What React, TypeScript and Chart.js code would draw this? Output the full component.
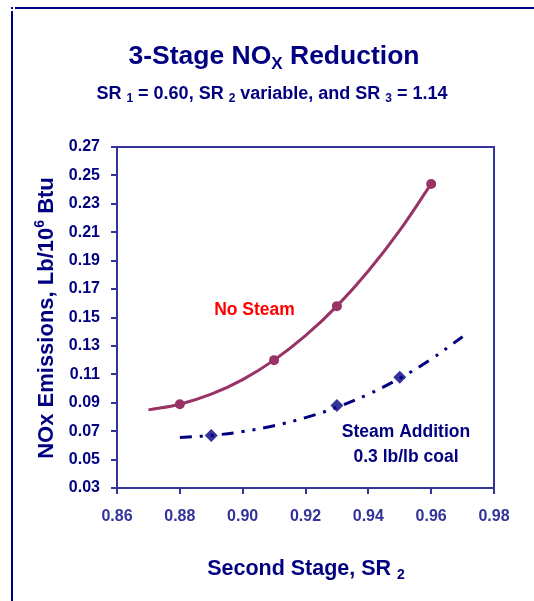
import React, { useEffect, useRef } from "react";
import { Chart, registerables } from "chart.js";

Chart.register(...registerables);

// ---- Data ----
const noSteamSR = [0.88, 0.91, 0.93, 0.96];
const noSteamNOx = [0.089, 0.12, 0.158, 0.244];
const steamSR = [0.89, 0.93, 0.95];
const steamNOx = [0.067, 0.088, 0.108];

// trend lines, points
const noSteamTrendSR = [0.87, 0.88, 0.89, 0.9, 0.91, 0.92, 0.93, 0.94, 0.95, 0.96];
const noSteamTrendNOx = [0.085, 0.089, 0.096, 0.1063, 0.12, 0.1372, 0.158, 0.1827, 0.2113, 0.244];
const steamTrendSR = [0.88, 0.89, 0.9, 0.91, 0.92, 0.93, 0.94, 0.95, 0.96, 0.97];
const steamTrendNOx = [0.0655, 0.067, 0.0697, 0.0738, 0.0795, 0.0868, 0.096, 0.1072, 0.1207, 0.1365];

const xMin = 0.86;
const xMax = 0.98;
const xStep = 0.02;
const yMin = 0.03;
const yMax = 0.27;
const yStep = 0.02;

const FONT = '"Liberation Sans", Arial, sans-serif';
const NAVY = "#000080";
const AXIS = "#333399";
const PLUM = "#993366";

type Seg = { t: string; s?: "sub" | "sup" };

function drawRich(
  ctx: CanvasRenderingContext2D,
  segs: Seg[],
  x: number,
  y: number,
  size: number,
  color: string,
  rotate = 0
) {
  ctx.save();
  ctx.translate(x, y);
  if (rotate) ctx.rotate(rotate);
  ctx.fillStyle = color;
  ctx.textBaseline = "alphabetic";
  ctx.textAlign = "left";
  const fontFor = (sg: Seg) => {
    const sz = sg.s ? Math.round(size * 0.64) : size;
    return `bold ${sz}px ${FONT}`;
  };
  let total = 0;
  const widths = segs.map((sg) => {
    ctx.font = fontFor(sg);
    const w = ctx.measureText(sg.t).width;
    total += w;
    return w;
  });
  let cx = -total / 2;
  segs.forEach((sg, i) => {
    ctx.font = fontFor(sg);
    let dy = 0;
    if (sg.s === "sub") dy = size * 0.17;
    if (sg.s === "sup") dy = -size * 0.42;
    ctx.fillText(sg.t, cx, dy);
    cx += widths[i];
  });
  ctx.restore();
}

const decorPlugin = {
  id: "decor",
  afterDraw(chart: any) {
    const ctx: CanvasRenderingContext2D = chart.ctx;
    const ca = chart.chartArea;
    ctx.save();
    // outer frame
    ctx.fillStyle = NAVY;
    ctx.fillRect(11, 11, 2, 590);
    ctx.fillRect(15, 7, 519, 2);
    ctx.fillRect(11, 7, 2, 2);
    // plot border
    ctx.strokeStyle = AXIS;
    ctx.lineWidth = 2;
    ctx.strokeRect(ca.left, ca.top, ca.right - ca.left, ca.bottom - ca.top);
    ctx.restore();

    // titles
    drawRich(ctx, [{ t: "3-Stage NO" }, { t: "X", s: "sub" }, { t: " Reduction" }], 274, 64, 26.5, NAVY);
    drawRich(
      ctx,
      [
        { t: "SR " },
        { t: "1", s: "sub" },
        { t: " = 0.60, SR " },
        { t: "2", s: "sub" },
        { t: " variable, and SR " },
        { t: "3", s: "sub" },
        { t: " = 1.14" },
      ],
      272,
      99,
      18,
      NAVY
    );
    // axis titles
    drawRich(ctx, [{ t: "Second Stage, SR " }, { t: "2", s: "sub" }], 306, 575, 21.5, NAVY);
    drawRich(
      ctx,
      [{ t: "NOx Emissions, Lb/10" }, { t: "6", s: "sup" }, { t: " Btu" }],
      53,
      318,
      22,
      NAVY,
      -Math.PI / 2
    );
    // annotations
    drawRich(ctx, [{ t: "No Steam" }], 254.5, 315, 17.5, "#FF0000");
    drawRich(ctx, [{ t: "Steam Addition" }], 406, 437, 17.5, NAVY);
    drawRich(ctx, [{ t: "0.3 lb/lb coal" }], 406, 462, 17.5, NAVY);
  },
};

export default function App() {
  const ref = useRef<HTMLCanvasElement | null>(null);
  useEffect(() => {
    if (!ref.current) return;
    const pts = (xs: number[], ys: number[]) => xs.map((x, i) => ({ x, y: ys[i] }));
    const chart = new Chart(ref.current, {
      type: "line",
      data: {
        datasets: [
          {
            label: "No Steam trend",
            data: pts(noSteamTrendSR, noSteamTrendNOx),
            borderColor: PLUM,
            borderWidth: 3,
            pointRadius: 0,
            tension: 0.4,
            fill: false,
          },
          {
            label: "Steam trend",
            data: pts(steamTrendSR, steamTrendNOx),
            borderColor: NAVY,
            borderWidth: 3,
            borderDash: [12, 8, 3, 8, 3, 8],
            borderDashOffset: 0,
            borderCapStyle: "butt",
            pointRadius: 0,
            tension: 0.4,
            fill: false,
          },
          {
            label: "No Steam",
            data: pts(noSteamSR, noSteamNOx),
            showLine: false,
            pointStyle: "circle",
            pointRadius: 5,
            pointBackgroundColor: PLUM,
            pointBorderColor: PLUM,
            pointBorderWidth: 0,
          },
          {
            label: "Steam Addition",
            data: pts(steamSR, steamNOx),
            showLine: false,
            pointStyle: "rectRot",
            pointRadius: 6.5,
            pointBackgroundColor: AXIS,
            pointBorderColor: AXIS,
            pointBorderWidth: 0,
          },
        ],
      },
      options: {
        responsive: false,
        animation: false,
        events: [],
        layout: { padding: { left: 0, right: 40, top: 147, bottom: 0 } },
        plugins: { legend: { display: false }, title: { display: false }, tooltip: { enabled: false } },
        scales: {
          x: {
            type: "linear",
            min: xMin,
            max: xMax,
            afterFit: (s: any) => {
              s.height = 113;
            },
            ticks: {
              stepSize: xStep,
              color: AXIS,
              font: { family: FONT, size: 16, weight: "bold" },
              padding: 13,
              maxRotation: 0,
              callback: (v: any) => Number(v).toFixed(2),
            },
            grid: { drawOnChartArea: false, drawTicks: true, tickLength: 6, color: AXIS, lineWidth: 2 },
            border: { display: true, color: AXIS, width: 2 },
          },
          y: {
            type: "linear",
            min: yMin,
            max: yMax,
            afterFit: (s: any) => {
              s.width = 117;
            },
            ticks: {
              stepSize: yStep,
              color: NAVY,
              font: { family: FONT, size: 16, weight: "bold" },
              padding: 11,
              callback: (v: any) => Number(v).toFixed(2),
            },
            grid: { drawOnChartArea: false, drawTicks: true, tickLength: 6, color: AXIS, lineWidth: 2 },
            border: { display: true, color: AXIS, width: 2 },
          },
        },
      },
      plugins: [decorPlugin],
    } as any);
    return () => chart.destroy();
  }, []);
  return (
    <div style={{ position: "fixed", left: 0, top: 0, width: 534, height: 601, background: "#fff" }}>
      <canvas ref={ref} width={534} height={601} style={{ display: "block", width: 534, height: 601 }} />
    </div>
  );
}
